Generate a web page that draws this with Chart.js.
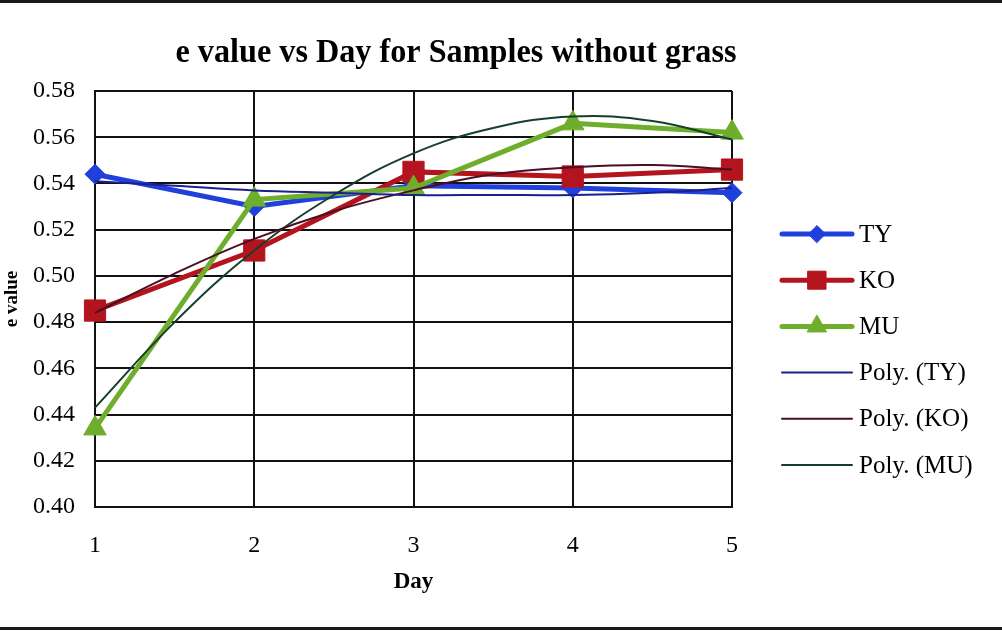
<!DOCTYPE html>
<html>
<head>
<meta charset="utf-8">
<script src="https://cdn.jsdelivr.net/npm/chart.js@4.4.0/dist/chart.umd.min.js"></script>
<style>
  html, body { margin: 0; padding: 0; background: #fff; }
  #wrap { width: 1002px; height: 632px; }
</style>
</head>
<body>
<div id="wrap"><canvas id="c" width="1002" height="632"></canvas></div>
<script>
// Measured e values per day
const days = [1, 2, 3, 4, 5];
const tyValues = [0.544, 0.530, 0.539, 0.538, 0.536];
const koValues = [0.485, 0.511, 0.545, 0.543, 0.546];
const muValues = [0.434, 0.533, 0.538, 0.566, 0.562];

// Second-order trend curves, sampled every half day
const trendDays = [1, 1.5, 2, 2.5, 3, 3.5, 4, 4.5, 5];
const tyTrend = [0.541, 0.539, 0.537, 0.536, 0.535, 0.535, 0.535, 0.536, 0.538];
const koTrend = [0.484, 0.501, 0.516, 0.528, 0.537, 0.544, 0.547, 0.548, 0.546];
const muTrend = [0.443, 0.480, 0.511, 0.535, 0.553, 0.564, 0.569, 0.567, 0.559];

// Axis ticks
const yTickValues = [0.40, 0.42, 0.44, 0.46, 0.48, 0.50, 0.52, 0.54, 0.56, 0.58];
const xTickValues = [1, 2, 3, 4, 5];

const chartTitle = 'e value vs Day for Samples without grass';
const SERIF = '"Liberation Serif", "Times New Roman", serif';

const pts = (xs, ys) => xs.map((x, i) => ({ x: x, y: ys[i] }));

function seriesSet(label, values, color, style, radius, order) {
  return {
    label: label,
    data: pts(days, values),
    borderColor: color,
    backgroundColor: color,
    borderWidth: 5,
    pointStyle: style,
    pointRadius: radius,
    pointHoverRadius: radius,
    pointBorderWidth: 1,
    pointBackgroundColor: color,
    pointBorderColor: color,
    tension: 0,
    clip: false,
    order: order
  };
}

function trendSet(label, values, color) {
  return {
    label: label,
    data: pts(trendDays, values),
    borderColor: color,
    backgroundColor: color,
    borderWidth: 2,
    pointRadius: 0,
    pointHoverRadius: 0,
    tension: 0.4,
    clip: false,
    order: 0
  };
}

const datasets = [
  seriesSet('TY', tyValues, '#1f40dc', 'rectRot', 10, 3),
  seriesSet('KO', koValues, '#b3141d', 'rect', 15, 2),
  seriesSet('MU', muValues, '#6eae2c', 'triangle', 13, 1),
  trendSet('Poly. (TY)', tyTrend, '#1c1f8c'),
  trendSet('Poly. (KO)', koTrend, '#4c0f22'),
  trendSet('Poly. (MU)', muTrend, '#143f2a')
];

// Page frame and white backdrop
const framePlugin = {
  id: 'frame',
  beforeDraw(chart) {
    const ctx = chart.ctx;
    ctx.save();
    ctx.fillStyle = '#ffffff';
    ctx.fillRect(0, 0, chart.width, chart.height);
    ctx.strokeStyle = '#1a1a1a';
    ctx.lineWidth = 3;
    ctx.beginPath();
    ctx.moveTo(0, 1.5); ctx.lineTo(chart.width, 1.5);
    ctx.moveTo(0, 628.5); ctx.lineTo(chart.width, 628.5);
    ctx.stroke();
    ctx.restore();
  }
};

// Condensed bold title above the plot
const titlePlugin = {
  id: 'condensedTitle',
  afterDraw(chart) {
    const ctx = chart.ctx;
    ctx.save();
    ctx.font = 'bold 34px ' + SERIF;
    const w = ctx.measureText(chartTitle).width;
    ctx.translate(456, 62);
    ctx.scale(561 / w, 1);
    ctx.fillStyle = '#000';
    ctx.textAlign = 'center';
    ctx.textBaseline = 'alphabetic';
    ctx.fillText(chartTitle, 0, 0);
    ctx.restore();
  }
};

// Legend on the right: line sample with marker, then label
const legendPlugin = {
  id: 'sideLegend',
  afterDraw(chart) {
    const ctx = chart.ctx;
    const x0 = 782, x1 = 852, tx = 859;
    const y0 = 234, step = 46.2;
    chart.data.datasets.forEach((ds, i) => {
      const y = y0 + i * step;
      ctx.save();
      ctx.strokeStyle = ds.borderColor;
      ctx.lineWidth = ds.borderWidth;
      ctx.lineCap = 'round';
      ctx.beginPath();
      ctx.moveTo(x0, y);
      ctx.lineTo(x1, y);
      ctx.stroke();
      if (ds.pointRadius > 0) {
        ctx.fillStyle = ds.pointBackgroundColor;
        ctx.strokeStyle = ds.pointBorderColor;
        ctx.lineWidth = 1;
        Chart.helpers.drawPoint(ctx, {
          pointStyle: ds.pointStyle,
          radius: ds.pointRadius * 0.85,
          rotation: 0,
          borderWidth: 1
        }, (x0 + x1) / 2, y);
      }
      ctx.fillStyle = '#000';
      ctx.font = '25px ' + SERIF;
      ctx.textAlign = 'left';
      ctx.textBaseline = 'middle';
      ctx.fillText(ds.label, tx, y + 1);
      ctx.restore();
    });
  }
};

new Chart(document.getElementById('c'), {
  type: 'line',
  data: { datasets: datasets },
  plugins: [framePlugin, titlePlugin, legendPlugin],
  options: {
    responsive: false,
    devicePixelRatio: 1,
    animation: false,
    events: [],
    layout: { padding: { left: 0, right: 270, top: 91, bottom: 0 } },
    plugins: {
      legend: { display: false },
      title: { display: false },
      tooltip: { enabled: false }
    },
    scales: {
      x: {
        type: 'linear',
        min: 1,
        max: 5,
        afterFit(scale) { scale.height = 125; },
        afterBuildTicks(scale) { scale.ticks = xTickValues.map(v => ({ value: v })); },
        ticks: {
          color: '#000',
          padding: 24,
          font: { family: SERIF, size: 24 },
          callback: v => String(v)
        },
        grid: { color: '#111', lineWidth: 2, drawTicks: false },
        border: { display: true, color: '#111', width: 2 },
        title: {
          display: true,
          text: 'Day',
          color: '#000',
          font: { family: SERIF, size: 23, weight: 'bold' },
          padding: { top: 0, bottom: 36 }
        }
      },
      y: {
        type: 'linear',
        min: 0.40,
        max: 0.58,
        afterFit(scale) { scale.width = 95; },
        afterBuildTicks(scale) { scale.ticks = yTickValues.map(v => ({ value: v })); },
        ticks: {
          color: '#000',
          padding: 20,
          font: { family: SERIF, size: 24 },
          callback: v => Number(v).toFixed(2)
        },
        grid: { color: '#111', lineWidth: 2, drawTicks: false },
        border: { display: true, color: '#111', width: 2 },
        title: {
          display: true,
          text: 'e value',
          color: '#000',
          font: { family: SERIF, size: 19, weight: 'bold' },
          padding: { top: 1, bottom: 0 }
        }
      }
    }
  }
});
</script>
</body>
</html>
